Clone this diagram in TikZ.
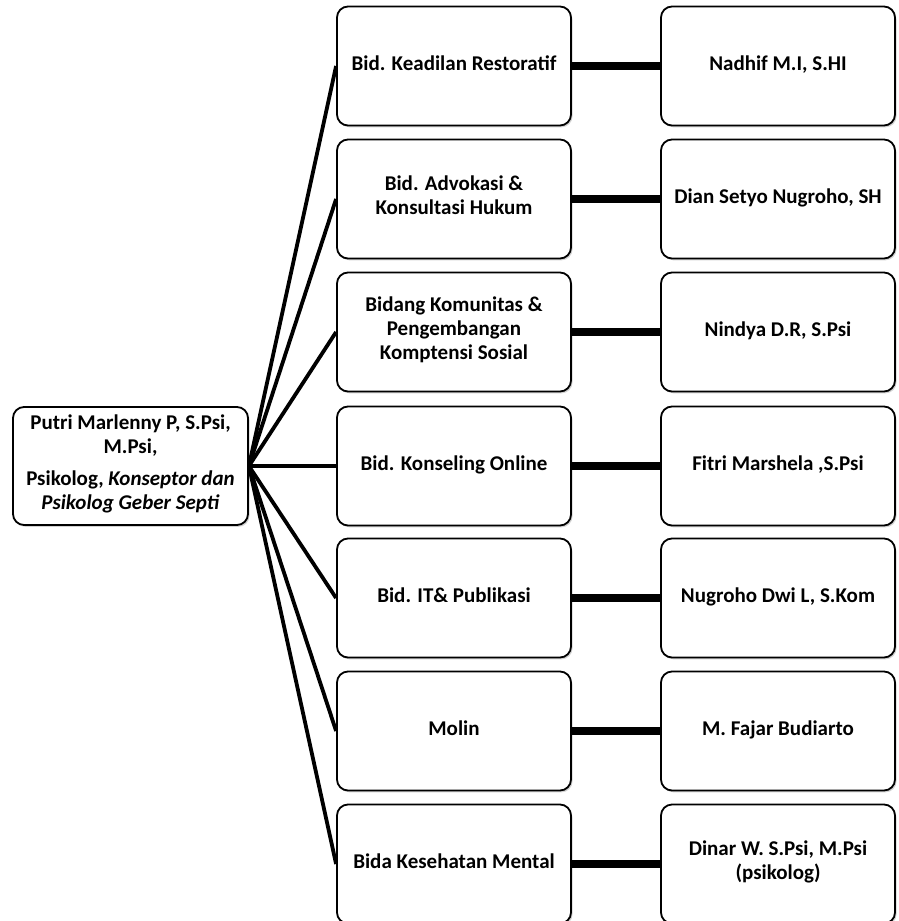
\documentclass[tikz,border=0pt]{standalone}
\usepackage{fontspec}
\setmainfont{Carlito}
\usetikzlibrary{shadows}

\begin{document}
\begin{tikzpicture}[x=1pt,y=-1pt,
    box/.style={draw, line width=1.8pt, rounded corners=11pt, fill=white,
        minimum width=234pt, minimum height=119pt, inner sep=4pt, align=center,
        font=\fontsize{21}{24}\selectfont\bfseries,
        execute at begin node=\strut, execute at end node=\strut,
        drop shadow={shadow xshift=1.5pt, shadow yshift=-1.8pt, fill=black!35}},
    link/.style={line width=3.8pt},
    hlink/.style={line width=7.5pt}]
    \useasboundingbox (0,0) rectangle (898,921);
    % ketua
    \node[box, minimum width=235pt, minimum height=118pt] (kepala) at (130.5,466)
        {Putri Marlenny P, S.Psi,\\ M.Psi,\\[8pt] Psikolog, \textit{Konseptor dan}\\ \textit{Psikolog Geber Septi}};
    % bidang
    \node[box] (bid1) at (454,66) {Bid. Keadilan Restoratif};
    \node[box] (bid2) at (454,199) {Bid. Advokasi \&\\ Konsultasi Hukum};
    \node[box] (bid3) at (454,332) {Bidang Komunitas \&\\ Pengembangan\\ Komptensi Sosial};
    \node[box] (bid4) at (454,466) {Bid. Konseling Online};
    \node[box] (bid5) at (454,598) {Bid. IT\& Publikasi};
    \node[box] (bid6) at (454,731) {Molin};
    \node[box] (bid7) at (454,864) {Bida Kesehatan Mental};
    % anggota
    \node[box] (ang1) at (778,66) {Nadhif M.I, S.HI};
    \node[box] (ang2) at (778,199) {Dian Setyo Nugroho, SH};
    \node[box] (ang3) at (778,332) {Nindya D.R, S.Psi};
    \node[box] (ang4) at (778,466) {Fitri Marshela ,S.Psi};
    \node[box] (ang5) at (778,598) {Nugroho Dwi L, S.Kom};
    \node[box] (ang6) at (778,731) {M. Fajar Budiarto};
    \node[box] (ang7) at (778,864) {Dinar W. S.Psi, M.Psi\\ (psikolog)};
    \foreach \i in {1,...,7}
    \draw[link] (kepala.east) -- (bid\i.west);
    \foreach \i in {1,...,7}
    \draw[hlink] (bid\i.east) -- (ang\i.west);
\end{tikzpicture}
\end{document}
